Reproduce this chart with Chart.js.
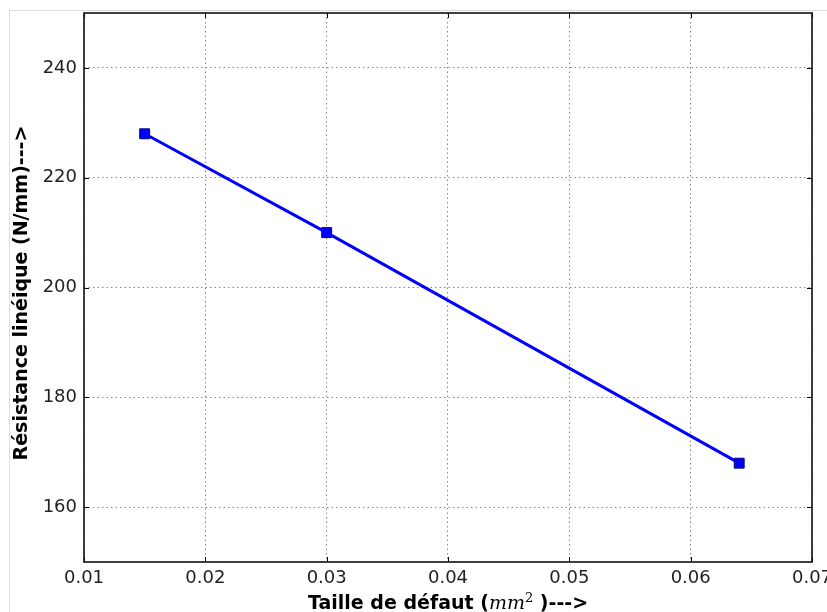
<!DOCTYPE html>
<html>
<head>
<meta charset="utf-8">
<script src="https://cdn.jsdelivr.net/npm/chart.js@4.4.0/dist/chart.umd.min.js"></script>
<style>
  html, body { margin: 0; padding: 0; background: #fff; }
  #wrap { position: relative; width: 827px; height: 612px; }
  #frame { position: absolute; left: 9px; top: 10px; right: 0; bottom: 0;
           border-left: 1px solid #ddd; border-top: 1px solid #ddd; pointer-events: none; }
</style>
</head>
<body>
<div id="wrap">
  <canvas id="chart" width="827" height="612"></canvas>
  <div id="frame"></div>
</div>
<script>
// ---------- DATA ----------
const defectSize = [0.015, 0.03, 0.064];
const resistance = [228, 210, 168];
const xTicks = [0.01, 0.02, 0.03, 0.04, 0.05, 0.06, 0.07];
const yTicks = [160, 180, 200, 220, 240];

const FONT = "'DejaVu Sans', sans-serif";

// ---------- FRAME, INNER TICKS, AXIS TITLES ----------
const framePlugin = {
  id: "framePlugin",
  afterDraw(chart) {
    const { ctx, chartArea: a, scales } = chart;
    ctx.save();
    // inner tick marks on all four sides
    ctx.strokeStyle = "#000";
    ctx.lineWidth = 1;
    xTicks.forEach(v => {
      const x = Math.round(scales.x.getPixelForValue(v)) + 0.5;
      ctx.beginPath();
      ctx.moveTo(x, a.bottom); ctx.lineTo(x, a.bottom - 5);
      ctx.moveTo(x, a.top); ctx.lineTo(x, a.top + 5);
      ctx.stroke();
    });
    yTicks.forEach(v => {
      const y = Math.round(scales.y.getPixelForValue(v)) + 0.5;
      ctx.beginPath();
      ctx.moveTo(a.left, y); ctx.lineTo(a.left + 5, y);
      ctx.moveTo(a.right, y); ctx.lineTo(a.right - 5, y);
      ctx.stroke();
    });
    // plot frame
    ctx.strokeStyle = "#111";
    ctx.lineWidth = 1.6;
    ctx.strokeRect(a.left, a.top, a.right - a.left, a.bottom - a.top);

    // y title
    ctx.fillStyle = "#000";
    ctx.font = "bold 19px " + FONT;
    ctx.textAlign = "center";
    ctx.textBaseline = "middle";
    ctx.translate(22, 293);
    ctx.rotate(-Math.PI / 2);
    ctx.fillText("Résistance linéique (N/mm)--->", 0, 0);
    ctx.setTransform(1, 0, 0, 1, 0, 0);

    // x title, mixed fonts
    const parts = [
      { t: "Taille de défaut (", f: "bold 19px " + FONT, dy: 0 },
      { t: "mm", f: "italic 19px 'DejaVu Serif', serif", dy: 0 },
      { t: "2", f: "13px 'DejaVu Serif', serif", dy: -7 },
      { t: " )--->", f: "bold 19px " + FONT, dy: 0 }
    ];
    let total = 0;
    parts.forEach(p => { ctx.font = p.f; p.w = ctx.measureText(p.t).width; total += p.w; });
    let x = (a.left + a.right) / 2 - total / 2;
    ctx.textAlign = "left";
    ctx.textBaseline = "alphabetic";
    parts.forEach(p => {
      ctx.font = p.f;
      ctx.fillText(p.t, x, 609 + p.dy);
      x += p.w;
    });
    ctx.restore();
  }
};

// ---------- CHART ----------
const ctx = document.getElementById("chart").getContext("2d");
new Chart(ctx, {
  type: "line",
  data: {
    datasets: [{
      data: defectSize.map((v, i) => ({ x: v, y: resistance[i] })),
      borderColor: "#0000ff",
      borderWidth: 3,
      pointStyle: "rect",
      pointRadius: 7,
      pointBackgroundColor: "#0000ff",
      pointBorderColor: "#000080",
      pointBorderWidth: 1,
      tension: 0
    }]
  },
  options: {
    responsive: false,
    animation: false,
    layout: { padding: { top: 13, right: 15, left: 0, bottom: 0 } },
    plugins: { legend: { display: false }, tooltip: { enabled: false } },
    scales: {
      x: {
        type: "linear",
        min: 0.01,
        max: 0.07,
        afterBuildTicks: s => { s.ticks = xTicks.map(v => ({ value: v })); },
        afterFit: s => { s.height = 50; s.paddingLeft = 0; s.paddingRight = 0; },
        ticks: {
          color: "#222",
          font: { family: FONT, size: 18 },
          padding: 6,
          maxRotation: 0,
          autoSkip: false,
          callback: v => v.toFixed(2)
        },
        grid: { color: "#888", lineWidth: 1, drawTicks: false },
        border: { display: false, dash: [1.5, 3] }
      },
      y: {
        min: 150,
        max: 250,
        afterBuildTicks: s => { s.ticks = yTicks.map(v => ({ value: v })); },
        afterFit: s => { s.width = 84; s.paddingTop = 0; s.paddingBottom = 0; },
        ticks: {
          color: "#222",
          font: { family: FONT, size: 18 },
          padding: 7
        },
        grid: { color: "#888", lineWidth: 1, drawTicks: false },
        border: { display: false, dash: [1.5, 3] }
      }
    }
  },
  plugins: [framePlugin]
});
</script>
</body>
</html>
